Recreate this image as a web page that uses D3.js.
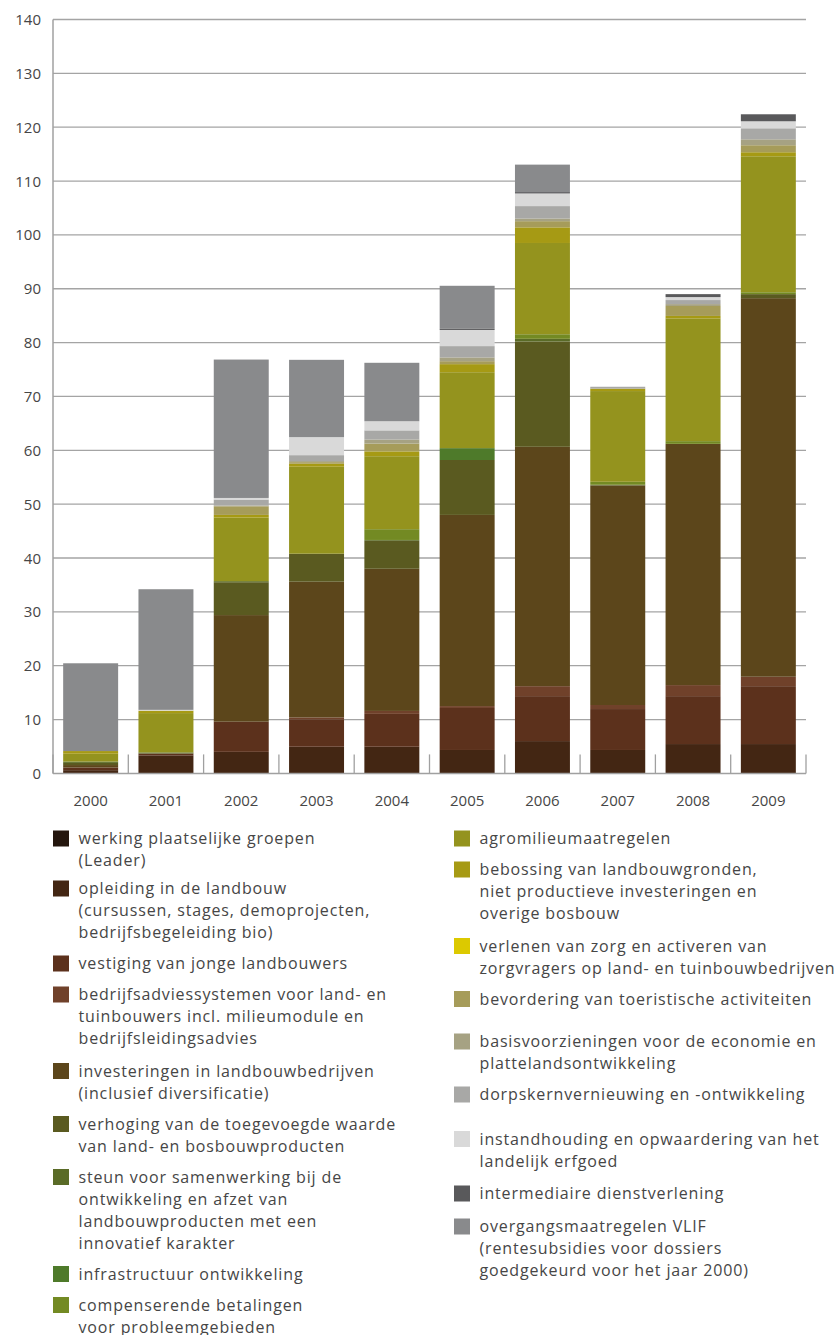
<!DOCTYPE html>
<html>
<head>
<meta charset="utf-8">
<script src="https://cdn.jsdelivr.net/npm/d3@7"></script>
<style>
  html, body { margin: 0; padding: 0; background: #ffffff; }
  text { font-family: "Open Sans", "Noto Sans", sans-serif; fill: #464646; }
</style>
</head>
<body>
<svg id="chart" width="840" height="1335"></svg>
<script>
// ---------- DATA ----------
const years = ["2000","2001","2002","2003","2004","2005","2006","2007","2008","2009"];
const yTicks = [0,10,20,30,40,50,60,70,80,90,100,110,120,130,140];

const seriesKeys = [
  "leader","opleiding","vestiging","bedrijfsadvies","investeringen","verhoging",
  "samenwerking","infrastructuur","compenserend","agromilieu","bebossing","zorg",
  "toerisme","basisvoorzieningen","dorpskern","erfgoed","intermediair","vlif"
];

const leader            = [0,    0,    0,    0,    0,    0,    0,    0,    0,    0];
const opleiding         = [0.6,  3.35, 4.0,  4.95, 4.95, 4.35, 6.0,  4.35, 5.45, 5.45];
const vestiging         = [0.5,  0.35, 5.6,  5.1,  6.1,  7.8,  8.35, 7.6,  8.9,  10.75];
const bedrijfsadvies    = [0,    0,    0,    0.35, 0.55, 0.35, 1.85, 0.75, 2.05, 1.75];
const investeringen     = [0.45, 0,    19.8, 25.2, 26.4, 35.5, 44.45,40.75,44.8, 70.3];
const verhoging         = [0.4,  0,    6.1,  5.2,  5.2,  10.2, 19.55,0.15, 0,    0.75];
const samenwerking      = [0.25, 0.2,  0.2,  0,    0.15, 0,    0.5,  0,    0,    0];
const infrastructuur    = [0,    0,    0,    0,    0,    2.2,  0,    0,    0,    0];
const compenserend      = [0,    0,    0,    0,    2.0,  0,    0.85, 0.55, 0.5,  0.35];
const agromilieu        = [1.45, 7.3,  11.8, 16.15,13.55,14.1, 16.95,16.85,22.8, 25.25];
const bebossing         = [0.5,  0.45, 0.5,  0.55, 0.9,  1.5,  2.9,  0.45, 0.45, 0.75];
const zorg              = [0,    0,    0,    0,    0,    0,    0,    0,    0,    0];
const toerisme          = [0,    0,    1.6,  0.3,  1.45, 0.55, 1.15, 0,    1.85, 1.3];
const basisvoorzieningen= [0,    0,    0.15, 0.2,  0.75, 0.7,  0.5,  0,    0.35, 1.1];
const dorpskern         = [0,    0,    1.1,  1.1,  1.7,  2.1,  2.3,  0.35, 0.75, 2.05];
const erfgoed           = [0,    0.15, 0.3,  3.35, 1.7,  3.0,  2.35, 0,    0.55, 1.3];
const intermediair      = [0,    0,    0,    0,    0,    0.2,  0.25, 0,    0.55, 1.3];
const vlif              = [16.3, 22.4, 25.7, 14.35,10.85,8.0,  5.1,  0,    0,    0];

const seriesValues = [leader, opleiding, vestiging, bedrijfsadvies, investeringen, verhoging,
  samenwerking, infrastructuur, compenserend, agromilieu, bebossing, zorg,
  toerisme, basisvoorzieningen, dorpskern, erfgoed, intermediair, vlif];

const seriesColors = [
  "#24160e","#432613","#5c311c","#70412a","#5c461b","#5a5a20",
  "#5a6b27","#4e7a2a","#738a23","#94931e","#a69a14","#dcc900",
  "#a69c5a","#a6a283","#a8a8a6","#d9d9d9","#59595b","#898a8c"
];

const seriesLabels = [
  ["werking plaatselijke groepen", "(Leader)"],
  ["opleiding in de landbouw", "(cursussen, stages, demoprojecten,", "bedrijfsbegeleiding bio)"],
  ["vestiging van jonge landbouwers"],
  ["bedrijfsadviessystemen voor land- en", "tuinbouwers incl. milieumodule en", "bedrijfsleidingsadvies"],
  ["investeringen in landbouwbedrijven", "(inclusief diversificatie)"],
  ["verhoging van de toegevoegde waarde", "van land- en bosbouwproducten"],
  ["steun voor samenwerking bij de", "ontwikkeling en afzet van", "landbouwproducten met een", "innovatief karakter"],
  ["infrastructuur ontwikkeling"],
  ["compenserende betalingen", "voor probleemgebieden"],
  ["agromilieumaatregelen"],
  ["bebossing van landbouwgronden,", "niet productieve investeringen en", "overige bosbouw"],
  ["verlenen van zorg en activeren van", "zorgvragers op land- en tuinbouwbedrijven"],
  ["bevordering van toeristische activiteiten"],
  ["basisvoorzieningen voor de economie en", "plattelandsontwikkeling"],
  ["dorpskernvernieuwing en -ontwikkeling"],
  ["instandhouding en opwaardering van het", "landelijk erfgoed"],
  ["intermediaire dienstverlening"],
  ["overgangsmaatregelen VLIF", "(rentesubsidies voor dossiers", "goedgekeurd voor het jaar 2000)"]
];

// ---------- LAYOUT ----------
const plot = { left: 53, right: 806, top: 19.5, bottom: 773.4 };
const legendLayout = {
  columns: [
    { x: 53, items: [0,1,2,3,4,5,6,7,8], startY: 838.5, extra: [0,-3,0,0,1.5,0,0,0,0] },
    { x: 454, items: [9,10,11,12,13,14,15,16,17], startY: 838.5, extra: [0,0,1.5,0,11.5,0,13.5,1.5,2] }
  ],
  lineHeight: 22, gap: 9, swatch: 16, textOffset: 25.5, fontSize: 16, letterSpacing: 0.85
};

// ---------- TABLE ----------
const table = years.map((yr, i) => {
  const row = { year: yr };
  seriesKeys.forEach((k, s) => row[k] = seriesValues[s][i]);
  return row;
});
const stacked = d3.stack().keys(seriesKeys)(table);

const svg = d3.select("#chart");

const x = d3.scaleBand().domain(years).range([plot.left, plot.right])
  .paddingInner(0.27).paddingOuter(0.135);
const y = d3.scaleLinear().domain([0, 140]).range([plot.bottom, plot.top]);

// gridlines
svg.append("g").selectAll("line").data(yTicks.filter(t => t > 0)).join("line")
  .attr("x1", plot.left).attr("x2", plot.right)
  .attr("y1", d => y(d)).attr("y2", d => y(d))
  .attr("stroke", "#a4a4a4").attr("stroke-width", 1.3);

// bars
svg.append("g").selectAll("g").data(stacked).join("g")
  .attr("fill", (d, i) => seriesColors[i])
  .selectAll("rect").data(d => d).join("rect")
  .attr("x", d => x(d.data.year))
  .attr("width", x.bandwidth())
  .attr("y", d => y(d[1]))
  .attr("height", d => Math.max(0, y(d[0]) - y(d[1])));

// axes lines
svg.append("line").attr("x1", plot.left).attr("x2", plot.left)
  .attr("y1", plot.top).attr("y2", plot.bottom)
  .attr("stroke", "#a0a0a0").attr("stroke-width", 1.5);
svg.append("line").attr("x1", plot.left).attr("x2", plot.right)
  .attr("y1", y(0)).attr("y2", y(0))
  .attr("stroke", "#a0a0a0").attr("stroke-width", 1.5);

// x tick marks at band boundaries
const step = x.step();
const boundaries = d3.range(years.length + 1).map(i => plot.left + i * step);
svg.append("g").selectAll("line").data(boundaries).join("line")
  .attr("x1", d => d).attr("x2", d => d)
  .attr("y1", y(0) - 19).attr("y2", y(0))
  .attr("stroke", "#a0a0a0").attr("stroke-width", 1.3);

// y labels
svg.append("g").selectAll("text").data(yTicks).join("text")
  .attr("x", 41).attr("y", d => y(d) + 5.5)
  .attr("text-anchor", "end").attr("font-size", 15)
  .text(d => d);

// x labels
svg.append("g").selectAll("text").data(years).join("text")
  .attr("x", d => x(d) + x.bandwidth() / 2).attr("y", 806)
  .attr("text-anchor", "middle").attr("font-size", 15)
  .text(d => d);

// legend
const L = legendLayout;
L.columns.forEach(col => {
  let cy = col.startY;
  col.items.forEach((si, j) => {
    cy += col.extra[j];
    const g = svg.append("g");
    g.append("rect").attr("x", col.x).attr("y", cy - L.swatch / 2)
      .attr("width", L.swatch).attr("height", L.swatch)
      .attr("fill", seriesColors[si]);
    const t = g.append("text").attr("font-size", L.fontSize)
      .attr("letter-spacing", L.letterSpacing);
    seriesLabels[si].forEach((line, k) => {
      t.append("tspan").attr("x", col.x + L.textOffset)
        .attr("y", cy + 5.5 + k * L.lineHeight).text(line);
    });
    cy += seriesLabels[si].length * L.lineHeight + L.gap;
  });
});
</script>
</body>
</html>
